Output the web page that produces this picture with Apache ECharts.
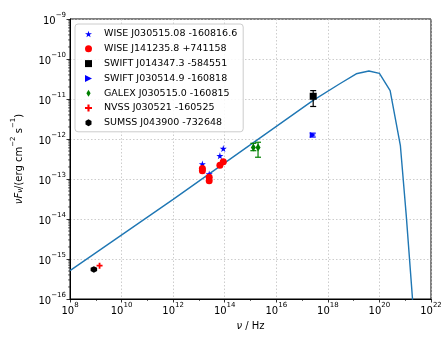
<!DOCTYPE html>
<html><head><meta charset="utf-8">
<script src="https://cdn.jsdelivr.net/npm/echarts@6/dist/echarts.min.js"></script>
<style>html,body{margin:0;padding:0;background:#fff}#c{width:448px;height:340px}</style>
</head><body><div id="c"></div>
<script>
// ---- data (frequency in Hz, nuFnu in erg cm^-2 s^-1) ----
const wiseA_nu = [1.36e13, 2.5e13, 6.5e13, 8.8e13];
const wiseA_F  = [2.37e-13, 1.33e-13, 3.8e-13, 5.75e-13];
const wiseB_nu = [1.36e13, 1.36e13, 2.5e13, 2.5e13, 6.5e13, 8.8e13];
const wiseB_F  = [1.82e-13, 1.6e-13, 1.1e-13, 0.9e-13, 2.2e-13, 2.7e-13];
const swiftA_nu = [2.7e17];
const swiftA_F  = [1.17e-11];
const swiftA_lo = [6.5e-12];
const swiftA_hi = [1.62e-11];
const swiftB_nu = [2.6e17];
const swiftB_F  = [1.26e-12];
const swiftB_lo = [1.12e-12];
const swiftB_hi = [1.4e-12];
const galex_nu = [1.29e15, 1.96e15];
const galex_F  = [6.1e-13, 6.1e-13];
const galex_lo = [5.1e-13, 3.5e-13];
const galex_hi = [7.8e-13, 8.3e-13];
const nvss_nu = [1.4e9];
const nvss_F  = [6.8e-16];
const sumss_nu = [8.43e8];
const sumss_F  = [5.5e-16];
const model_nu = [1e8, 1e12, 2.6e17, 2.8e18, 1.26e19, 3.9e19, 1e20, 2.6e20, 6.5e20, 1.1e21, 1.9e21, 2.3e21];
const model_F  = [5.1e-16, 3.1e-14, 9.1e-12, 2.37e-11, 4.27e-11, 5.0e-11, 4.37e-11, 1.62e-11, 6.8e-13, 1.2e-14, 1.1e-16, 5e-18];
const names = ['WISE J030515.08 -160816.6','WISE J141235.8 +741158','SWIFT J014347.3 -584551','SWIFT J030514.9 -160818','GALEX J030515.0 -160815','NVSS J030521 -160525','SUMSS J043900 -732648'];
const xTicks = [8, 10, 12, 14, 16, 18, 20, 22];
const yTicks = [-16, -15, -14, -13, -12, -11, -10, -9];

const L = Math.log10;
const pts = (nu, F) => nu.map((v, i) => [L(v), L(F[i])]);
const errs = (nu, lo, hi) => nu.map((v, i) => [L(v), L(lo[i]), L(hi[i])]);
const sup = v => '{b|10}{s|' + (v < 0 ? '\u2212' + (-v) : v) + '}';
const FONT = 'DejaVu Sans';

const STAR = 'path://M50,0 L61,35 L98,35 L68,57 L79,91 L50,70 L21,91 L32,57 L2,35 L39,35 Z';
const PLUS = 'path://M35,0 H65 V35 H100 V65 H65 V100 H35 V65 H0 V35 H35 Z';
const HEX = 'path://M50,0 L93,25 L93,75 L50,100 L7,75 L7,25 Z';
const TRI = 'path://M0,0 L100,50 L0,100 Z';
const DIA = 'path://M50,0 L80,50 L50,100 L20,50 Z';

const minorY = [];
for (let n = -16; n < -9; n++) for (let k = 2; k <= 9; k++) minorY.push([8, n + L(k)]);

function errRender(color) {
  return function (params, api) {
    const x = api.value(0);
    const p1 = api.coord([x, api.value(1)]);
    const p2 = api.coord([x, api.value(2)]);
    const c = 3;
    const st = { stroke: color, lineWidth: 1.2 };
    return { type: 'group', children: [
      { type: 'line', shape: { x1: p1[0], y1: p1[1], x2: p2[0], y2: p2[1] }, style: st },
      { type: 'line', shape: { x1: p1[0] - c, y1: p1[1], x2: p1[0] + c, y2: p1[1] }, style: st },
      { type: 'line', shape: { x1: p2[0] - c, y1: p2[1], x2: p2[0] + c, y2: p2[1] }, style: st }
    ]};
  };
}

const chart = echarts.init(document.getElementById('c'), null, { renderer: 'canvas' });
const axisLabelRich = {
  b: { fontSize: 10, fontFamily: FONT, color: '#000', lineHeight: 14, verticalAlign: 'bottom' },
  s: { fontSize: 7, fontFamily: FONT, color: '#000', verticalAlign: 'top', lineHeight: 14, padding: [0, 0, 5, 0] }
};
chart.setOption({
  animation: false,
  backgroundColor: '#fff',
  grid: { left: 70, right: 17, top: 19, bottom: 41, show: true, borderColor: '#000', borderWidth: 1, backgroundColor: 'transparent' },
  legend: {
    orient: 'vertical', left: 75, top: 24, data: names,
    itemWidth: 7, itemHeight: 7, itemGap: 4.8,
    padding: [5, 6, 4, 10],
    backgroundColor: 'rgba(255,255,255,0.85)', borderColor: '#cccccc', borderWidth: 1, borderRadius: 3,
    textStyle: { fontFamily: FONT, fontSize: 9.5, color: '#000', padding: [0, 0, 0, 7], lineHeight: 10 }
  },
  xAxis: {
    type: 'value', min: 8, max: 22, interval: 2,
    name: '{i|\u03bd}{n| / Hz}', nameLocation: 'middle', nameGap: 22,
    nameTextStyle: { rich: { i: { fontFamily: FONT, fontSize: 10, fontStyle: 'italic', color: '#000' }, n: { fontFamily: FONT, fontSize: 10, color: '#000' } } },
    axisLine: { show: true, onZero: false, lineStyle: { color: '#000', width: 1 } },
    axisTick: { show: true, length: 3.5, lineStyle: { color: '#000', width: 0.8 } },
    minorTick: { show: true, splitNumber: 2, length: 2, lineStyle: { color: '#000', width: 0.6 } },
    axisLabel: { formatter: sup, rich: axisLabelRich, margin: 3 },
    splitLine: { show: true, lineStyle: { color: '#c0c0c0', type: [1.5, 2], width: 0.8 } }
  },
  yAxis: {
    type: 'value', min: -16, max: -9, interval: 1,
    name: '{i|\u03bdF}{sub|\u03bd}{n|/(erg cm}{s|\u22122}{n| s}{s|\u22121}{n|)}',
    nameLocation: 'middle', nameGap: 46, nameRotate: 90,
    nameTextStyle: { rich: {
      i: { fontFamily: FONT, fontSize: 10, fontStyle: 'italic', color: '#000', lineHeight: 14, verticalAlign: 'bottom' },
      sub: { fontFamily: FONT, fontSize: 7, fontStyle: 'italic', color: '#000', lineHeight: 14, verticalAlign: 'bottom' },
      n: { fontFamily: FONT, fontSize: 10, color: '#000', lineHeight: 14, verticalAlign: 'bottom' },
      s: { fontFamily: FONT, fontSize: 7, color: '#000', lineHeight: 14, verticalAlign: 'top', padding: [0, 0, 5, 0] }
    } },
    axisLine: { show: true, onZero: false, lineStyle: { color: '#000', width: 1 } },
    axisTick: { show: true, length: 3.5, lineStyle: { color: '#000', width: 0.8 } },
    axisLabel: { formatter: sup, rich: axisLabelRich, margin: 4 },
    splitLine: { show: true, lineStyle: { color: '#c0c0c0', type: [1.5, 2], width: 0.8 } }
  },
  series: [
    { type: 'line', data: pts(model_nu, model_F), showSymbol: false, symbol: 'none', clip: true,
      lineStyle: { color: '#1f77b4', width: 1.4 }, z: 2 },
    { type: 'custom', data: minorY, clip: false, silent: true, z: 5,
      renderItem: (params, api) => {
        const p = api.coord([api.value(0), api.value(1)]);
        return { type: 'line', shape: { x1: p[0] - 2, y1: p[1], x2: p[0], y2: p[1] }, style: { stroke: '#000', lineWidth: 0.6 } };
      } },
    { type: 'custom', data: errs(swiftA_nu, swiftA_lo, swiftA_hi), renderItem: errRender('#000'), z: 3 },
    { type: 'custom', data: errs(swiftB_nu, swiftB_lo, swiftB_hi), renderItem: errRender('#0000ff'), z: 3 },
    { type: 'custom', data: errs(galex_nu, galex_lo, galex_hi), renderItem: errRender('#008000'), z: 3 },
    { name: names[0], type: 'scatter', data: pts(wiseA_nu, wiseA_F), symbol: STAR, symbolSize: 7, itemStyle: { color: '#0000ff', opacity: 1 }, z: 4 },
    { name: names[1], type: 'scatter', data: pts(wiseB_nu, wiseB_F), symbol: 'circle', symbolSize: 7, itemStyle: { color: '#ff0000', opacity: 1 }, z: 4 },
    { name: names[2], type: 'scatter', data: pts(swiftA_nu, swiftA_F), symbol: 'rect', symbolSize: 7, itemStyle: { color: '#000', opacity: 1 }, z: 4 },
    { name: names[3], type: 'scatter', data: pts(swiftB_nu, swiftB_F), symbol: TRI, symbolSize: 6, itemStyle: { color: '#0000ff', opacity: 1 }, z: 4 },
    { name: names[4], type: 'scatter', data: pts(galex_nu, galex_F), symbol: DIA, symbolSize: [5, 8], itemStyle: { color: '#008000', opacity: 1 }, z: 4 },
    { name: names[5], type: 'scatter', data: pts(nvss_nu, nvss_F), symbol: PLUS, symbolSize: 6, itemStyle: { color: '#ff0000', opacity: 1 }, z: 4 },
    { name: names[6], type: 'scatter', data: pts(sumss_nu, sumss_F), symbol: HEX, symbolSize: 6.5, itemStyle: { color: '#000', opacity: 1 }, z: 4 }
  ]
});
</script></body></html>
